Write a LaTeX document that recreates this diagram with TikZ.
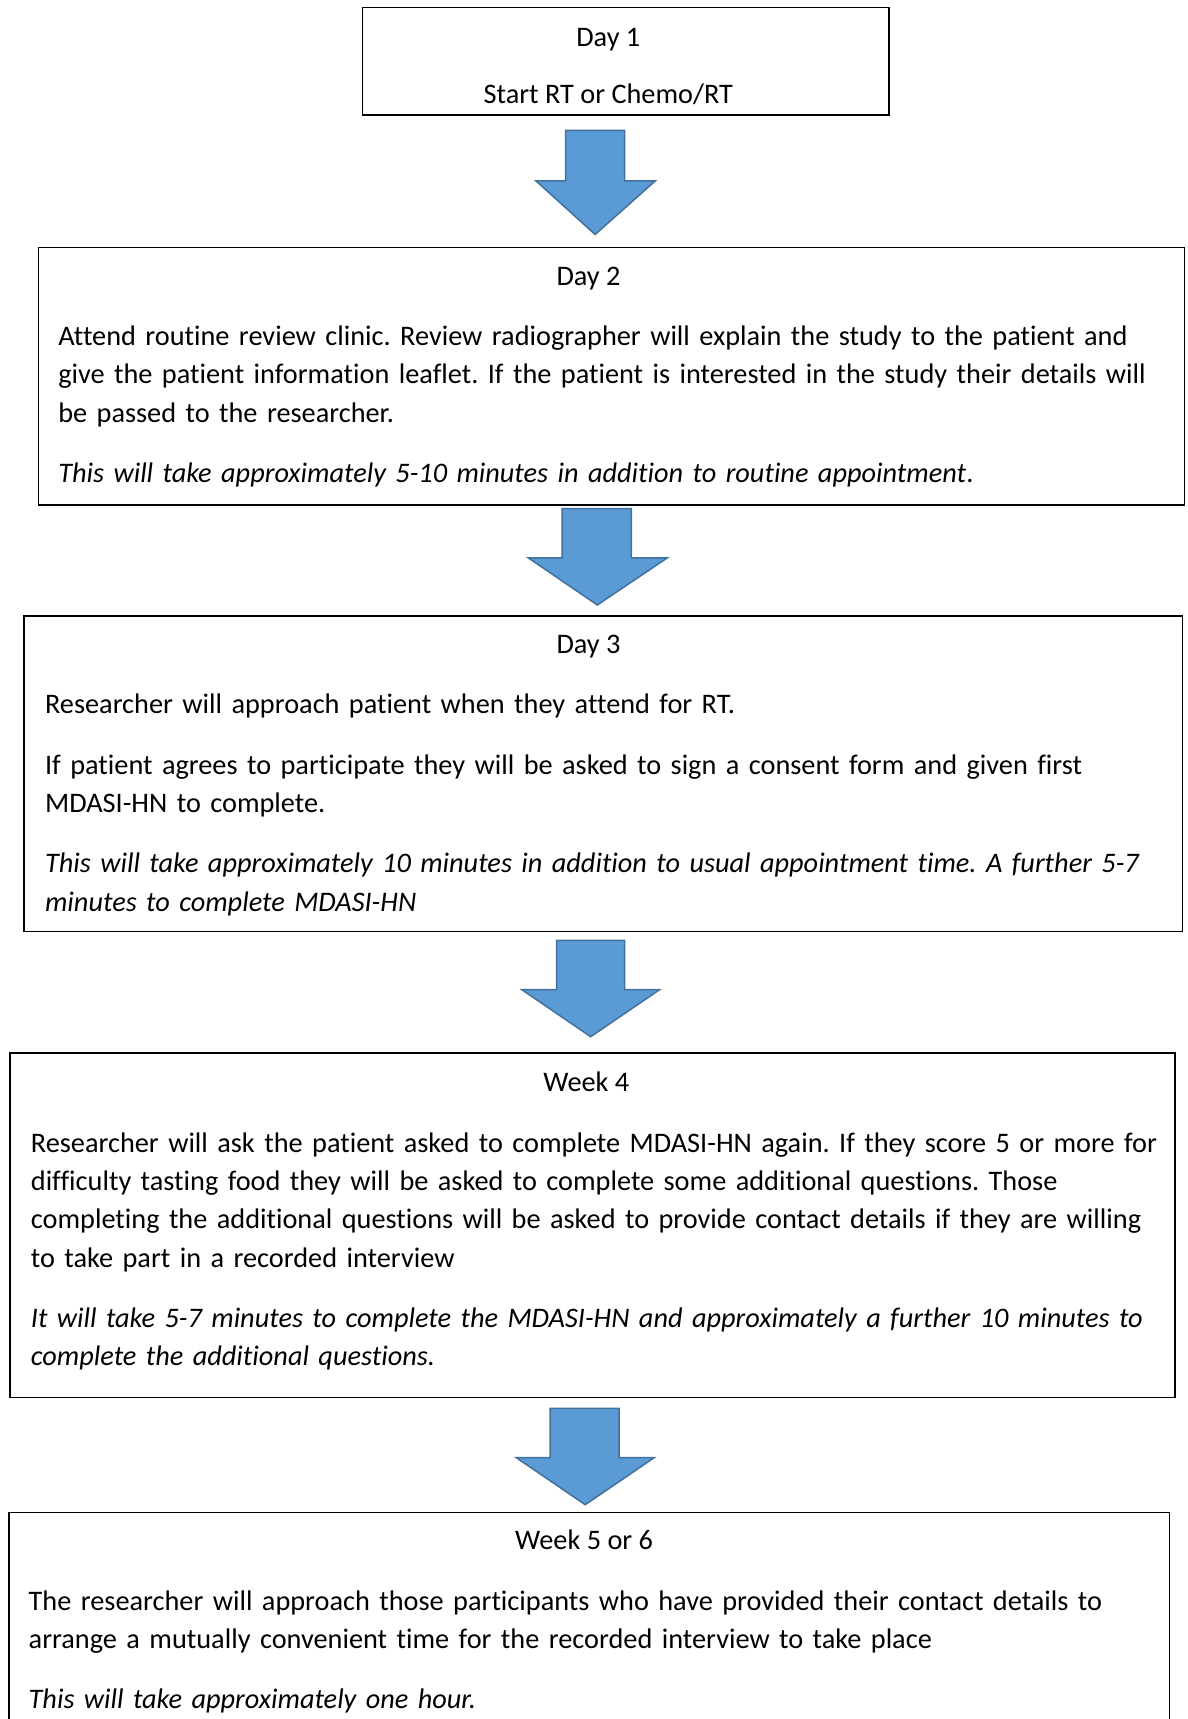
\documentclass[tikz,border=0pt]{standalone}
\usepackage{fontspec}
\setmainfont{Carlito}[Ligatures=NoCommon]
\frenchspacing
\definecolor{arrowfill}{HTML}{5B9BD5}
\definecolor{arrowline}{HTML}{41719C}
\tikzset{
  stagebox/.style={line width=1.5pt},
  blockarrow/.style={fill=arrowfill,draw=arrowline,line width=1.5pt},
  heading/.style={inner sep=0pt,anchor=base,font=\fontsize{28.3}{38.4}\selectfont},
  bodytext/.style={inner sep=0pt,anchor=base west,text width=1130pt,align=left,
    font=\fontsize{28.3}{38.4}\selectfont},
  remark/.style={bodytext,font=\fontsize{28.3}{38.4}\selectfont\itshape}
}
\begin{document}
\begin{tikzpicture}[x=1pt,y=-1pt]

\useasboundingbox (0,0) rectangle (1188,1719);
\clip (0,0) rectangle (1188,1719);

% Day 1
\draw[stagebox]
(362.7,7.7)
rectangle
(888.8,115.1);

\node[heading] (day1) at (608.3,46.3)
{Day 1};

\node[heading] (day1start) at (608.3,103.2)
{Start RT or Chemo/RT};

% Arrow 1
\draw[blockarrow]
(565.5,130.4) -- (624.7,130.4) -- (624.7,180.8) -- (655.4,180.8)
-- (595.1,234.5) -- (535.9,180.8) -- (565.5,180.8) -- cycle;

% Day 2
\draw[stagebox]
(38.4,247.7)
rectangle
(1184.7,505.2);

\node[heading] (day2) at (588.5,285.2)
{Day 2};

\node[bodytext] (day2text) at (58.1,345.4)
{Attend routine review clinic. Review radiographer will explain the study to the patient and\\
give the patient information leaflet. If the patient is interested in the study their details will\\
be passed to the researcher.};

\node[bodytext] (day2time) at (58.1,482.4)
{\itshape This will take approximately 5-10 minutes in addition to routine appointment\upshape.};

% Arrow 2
\draw[blockarrow]
(562.2,508.5) -- (631.3,508.5) -- (631.3,557.8) -- (667.4,557.8)
-- (597.3,605) -- (528.2,557.8) -- (562.2,557.8) -- cycle;

% Day 3
\draw[stagebox]
(24.1,615.9)
rectangle
(1182.5,931.5);

\node[heading] (day3) at (588.5,653.4)
{Day 3};

\node[bodytext] (day3text) at (44.9,713.7)
{Researcher will approach patient when they attend for RT.};

\node[bodytext] (day3consent) at (44.9,774)
{If patient agrees to participate they will be asked to sign a consent form and given first\\
MDASI-HN to complete.};

\node[remark] (day3time) at (44.9,872.6)
{This will take approximately 10 minutes in addition to usual appointment time. A further 5-7\\
minutes to complete MDASI-HN};

% Arrow 3
\draw[blockarrow]
(556.7,940.3) -- (624.7,940.3) -- (624.7,989.6) -- (659.7,989.6)
-- (590.7,1036.7) -- (521.7,989.6) -- (556.7,989.6) -- cycle;

% Week 4
\draw[stagebox]
(9.9,1053.2)
rectangle
(1174.8,1397.3);

\node[heading] (week4) at (586.3,1091.8)
{Week 4};

\node[bodytext] (week4text) at (30.7,1152)
{Researcher will ask the patient asked to complete MDASI-HN again. If they score 5 or more for\\
difficulty tasting food they will be asked to complete some additional questions. Those\\
completing the additional questions will be asked to provide contact details if they are willing\\
to take part in a recorded interview};

\node[remark] (week4time) at (30.7,1327.4)
{It will take 5-7 minutes to complete the MDASI-HN and approximately a further 10 minutes to\\
complete the additional questions.};

% Arrow 4
\draw[blockarrow]
(550.2,1408.3) -- (619.2,1408.3) -- (619.2,1457.6) -- (654.3,1457.6)
-- (585.2,1504.7) -- (516.2,1457.6) -- (550.2,1457.6) -- cycle;

% Week 5 or 6
\draw[stagebox]
(8.8,1512.4)
rectangle
(1169.4,1740);

\node[heading] (week5) at (584.1,1549.9)
{Week 5 or 6};

\node[bodytext] (week5text) at (28.5,1610.1)
{The researcher will approach those participants who have provided their contact details to\\
arrange a mutually convenient time for the recorded interview to take place};

\node[remark] (week5time) at (28.5,1708.8)
{This will take approximately one hour.};

\end{tikzpicture}
\end{document}
